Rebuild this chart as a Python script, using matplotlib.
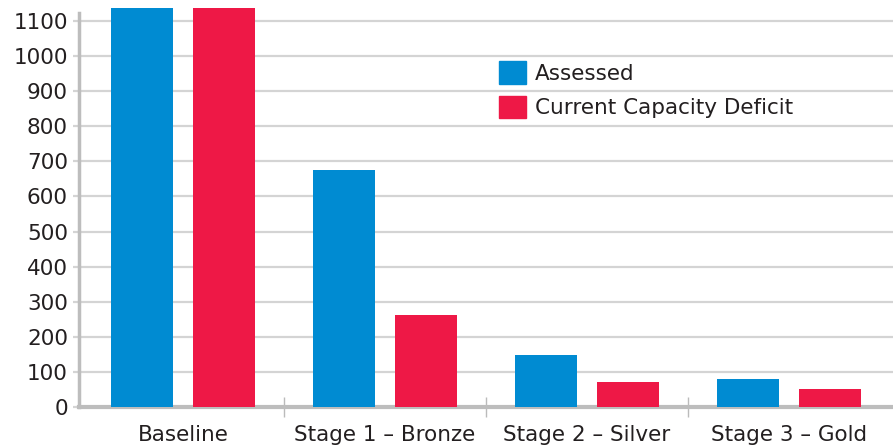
import matplotlib
matplotlib.use("Agg")
import matplotlib.pyplot as plt
from matplotlib.patches import Patch
import numpy as np

categories = ["Baseline", "Stage 1 \u2013 Bronze", "Stage 2 \u2013 Silver", "Stage 3 \u2013 Gold"]
assessed = [1140, 674, 147, 79]
deficit = [1140, 263, 71, 50]
series_names = ["Assessed", "Current Capacity Deficit"]
yticks = list(range(0, 1101, 100))

blue = "#008bd2"
red = "#ee1846"
txt = "#231f20"
grid = "#d4d4d4"
axis_gray = "#bdbdbd"

plt.rcParams["font.family"] = ["DejaVu Sans"]
FS = 15.5

fig = plt.figure(figsize=(8.93, 4.45), dpi=100)
ax = fig.add_axes([79/893, 38/445, 1 - 79/893, (407 - 8)/445])

x = np.arange(len(categories))
w = 0.307
off = 0.203
ax.bar(x - off, assessed, w, color=blue, zorder=3)
ax.bar(x + off, deficit, w, color=red, zorder=3)

ax.set_xlim(-0.515, 3.515)
ax.set_ylim(0, 1137)
ax.set_yticks(yticks)
ax.set_yticklabels([str(v) for v in yticks], fontsize=FS, color=txt)
ax.yaxis.grid(True, color=grid, linewidth=1.6, zorder=0)
ax.set_axisbelow(True)
ax.tick_params(axis="y", length=4, width=1.6, color=grid, pad=4)

ax.set_xticks(x)
ax.set_xticklabels(categories, fontsize=FS, color=txt)
ax.tick_params(axis="x", length=0, pad=13)
ax.set_xticks(np.arange(len(categories) - 1) + 0.5, minor=True)
ax.tick_params(axis="x", which="minor", length=14, width=1, color="#bbbbbb", direction="inout")

for s in ["top", "right"]:
    ax.spines[s].set_visible(False)
ax.spines["left"].set_color(axis_gray)
ax.spines["left"].set_linewidth(2.5)
ax.spines["left"].set_bounds(0, 1122)
ax.spines["bottom"].set_color(axis_gray)
ax.spines["bottom"].set_linewidth(3)

handles = [Patch(color=blue), Patch(color=red)]
fig.legend(handles, series_names, loc="upper left",
           bbox_to_anchor=(499/893, 1 - 61/445), frameon=False,
           fontsize=FS, handlelength=1.25, handleheight=1.25,
           handletextpad=0.4, labelspacing=0.55, borderpad=0,
           borderaxespad=0, labelcolor=txt)

fig.savefig("out.png", dpi=100)
